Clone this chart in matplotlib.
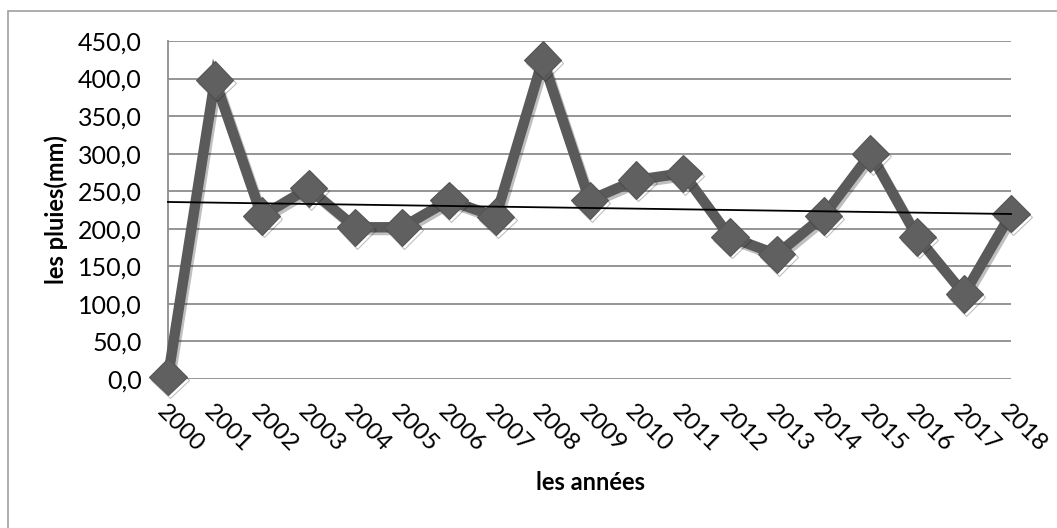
import numpy as np
import matplotlib
matplotlib.use('Agg')
import matplotlib.pyplot as plt
import matplotlib.patheffects as pe
from matplotlib.patches import Rectangle

years = [str(y) for y in range(2000, 2019)]
pluies = [3, 398, 217, 254, 202, 202, 238, 216, 425, 238,
          265, 274, 189, 166, 217, 300, 189, 113, 220]
yticks = [0, 50, 100, 150, 200, 250, 300, 350, 400, 450]

plt.rcParams['font.family'] = ['Lato', 'DejaVu Sans']

W, H = 1057, 528
L, R, T, B = 168, 1011, 41, 379
fig = plt.figure(figsize=(W / 100, H / 100), dpi=100)

# outer chart border (runs off right and bottom edge)
fig.patches.append(Rectangle((8 / W, -0.5), 1.5, 1.5 - 11 / H, transform=fig.transFigure,
                             fill=False, edgecolor='#a0a0a0', linewidth=1.2))

ax = fig.add_axes([L / W, 1 - B / H, (R - L) / W, (B - T) / H])
x = np.arange(len(years))

ax.set_ylim(0, 450)
ax.set_xlim(0, len(years) - 1)
ax.set_yticks(yticks)
ax.set_yticklabels(['{:.1f}'.format(v).replace('.', ',') for v in yticks], fontsize=18)
ax.yaxis.grid(True, color='#8c8c8c', linewidth=1.3)
ax.set_axisbelow(True)
for s in ['top', 'right', 'bottom']:
    ax.spines[s].set_visible(False)
ax.spines['left'].set_color('#8c8c8c')
ax.spines['left'].set_linewidth(1.3)
ax.tick_params(axis='both', length=0)
ax.tick_params(axis='y', pad=19)

ax.set_xticks(x)
ax.set_xticklabels(years, fontsize=17.5, rotation=-45, ha='left', va='top',
                   rotation_mode='anchor')
ax.tick_params(axis='x', pad=16)

shadow = [pe.SimpleLineShadow(offset=(1.5, -2), shadow_color='#000000', alpha=0.25),
          pe.Normal()]
ax.plot(x, pluies, color='#5a5a5a', linewidth=7.5, solid_joinstyle='miter',
        marker='D', markersize=19, markerfacecolor='#606060',
        markeredgecolor='#555555', markeredgewidth=0.8, path_effects=shadow,
        clip_on=False, zorder=3)

# linear trend line
coef = np.polyfit(x, pluies, 1)
ax.plot(x, np.polyval(coef, x), color='black', linewidth=1.3, zorder=4, clip_on=False)

ax.set_ylabel('les pluies(mm)', fontsize=17, fontweight='bold')
ax.yaxis.set_label_coords(-(L - 68) / (R - L), 0.5)
ax.set_xlabel('les années', fontsize=17, fontweight='bold')
ax.xaxis.set_label_coords((590 - L) / (R - L), -(471 - B) / (B - T))

fig.savefig('out.png', dpi=100)
